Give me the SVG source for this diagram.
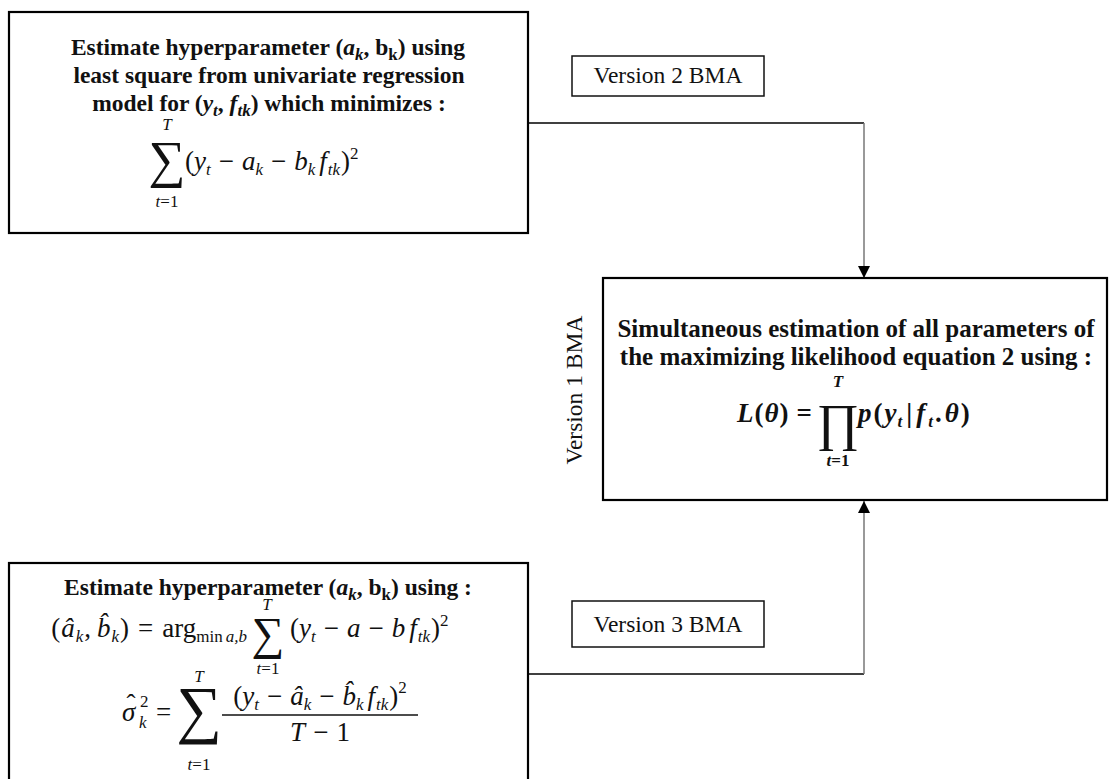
<svg xmlns="http://www.w3.org/2000/svg" width="1112" height="779" viewBox="0 0 1112 779">
<style>
.box{fill:#fff;stroke:#000;stroke-width:2.2}
.lbl{fill:#fff;stroke:#111;stroke-width:1.5}
.t{font-family:"Liberation Serif","Times New Roman",serif;font-size:23.5px;fill:#111}
.h2{font-size:25px}
.m{font-size:27px}
.b{font-weight:bold}
.i{font-style:italic}
.s{font-size:17px}
.big{font-size:52px}
.big2{font-size:46px}
.big3{font-size:64px}
.hl{stroke:#000;stroke-width:1.5;fill:none}
.vl{stroke:#777;stroke-width:1.5;fill:none}
</style>
<defs>
<marker id="arr" markerWidth="12" markerHeight="12" refX="12" refY="6" orient="auto" markerUnits="userSpaceOnUse">
<path d="M0,0 L12,6 L0,12 Z" fill="#000"/>
</marker>
</defs>
<rect width="1112" height="779" fill="#fff"/>

<g id="connectors">
<path class="hl" d="M528,123 H864"/>
<path class="vl" d="M864,123 V278" marker-end="url(#arr)"/>
<path class="hl" d="M528,674 H864"/>
<path class="vl" d="M864,674 V501" marker-end="url(#arr)"/>
</g>

<g id="box1">
<rect class="box" x="9" y="12" width="519" height="221"/>
<text class="t b" x="268" y="55" text-anchor="middle">Estimate hyperparameter (<tspan class="i">a</tspan><tspan class="s i" dy="5">k</tspan><tspan dy="-5">, b</tspan><tspan class="s" dy="5">k</tspan><tspan dy="-5">) using</tspan></text>
<text class="t b" x="269" y="83" text-anchor="middle">least square from univariate regression</text>
<text class="t b" x="269" y="111" text-anchor="middle">model for (<tspan class="i">y</tspan><tspan class="s i" dy="5">t</tspan><tspan dy="-5">, </tspan><tspan class="i">f</tspan><tspan class="s i" dy="5">tk</tspan><tspan dy="-5">) which minimizes :</tspan></text>
<text class="t s i" x="167" y="130" text-anchor="middle">T</text>
<text class="t big" x="167" y="177" text-anchor="middle">∑</text>
<text class="t m" x="185" y="170">(<tspan class="i">y</tspan><tspan class="s i" dy="5">t</tspan><tspan dy="-5" dx="8">−</tspan><tspan class="i" dx="8">a</tspan><tspan class="s i" dy="5">k</tspan><tspan dy="-5" dx="8">−</tspan><tspan class="i" dx="8">b</tspan><tspan class="s i" dy="5">k</tspan><tspan dx="4" dy="-5" class="i">f</tspan><tspan class="s i" dy="5" dx="1">tk</tspan><tspan dy="-5" dx="1">)</tspan><tspan class="s" dy="-11">2</tspan></text>
<text class="t s i" x="167" y="207" text-anchor="middle">t<tspan font-style="normal">=1</tspan></text>
</g>

<g id="label-v2">
<rect class="lbl" x="572" y="56" width="192" height="40"/>
<text class="t" x="668" y="83" text-anchor="middle">Version 2 BMA</text>
</g>

<g id="label-v1">
<text class="t" x="0" y="0" text-anchor="middle" transform="translate(582,390) rotate(-90)">Version 1 BMA</text>
</g>

<g id="box2">
<rect class="box" x="603" y="278" width="504" height="222"/>
<text class="t b h2" x="856" y="337" text-anchor="middle">Simultaneous estimation of all parameters of</text>
<text class="t b h2" x="856" y="365" text-anchor="middle">the maximizing likelihood equation 2 using :</text>
<text class="t s b i" x="838" y="387" text-anchor="middle">T</text>
<text class="t m b" x="812" y="422" text-anchor="end"><tspan class="i">L</tspan><tspan dx="1">(</tspan><tspan class="i" dx="1">θ</tspan><tspan dx="1">)</tspan><tspan dx="8">=</tspan></text>
<text class="t big" x="838" y="440" text-anchor="middle">∏</text>
<text class="t m b" x="858" y="422"><tspan class="i">p</tspan><tspan dx="2">(</tspan><tspan class="i" dx="2">y</tspan><tspan class="s i" dy="5" dx="1">t</tspan><tspan dy="-5" dx="4">|</tspan><tspan class="i" dx="4">f</tspan><tspan class="s i" dy="5" dx="3">t</tspan><tspan dy="-5" dx="2">.</tspan><tspan class="i" dx="3">θ</tspan><tspan dx="2">)</tspan></text>
<text class="t s b i" x="838" y="466" text-anchor="middle">t<tspan font-style="normal">=1</tspan></text>
</g>

<g id="label-v3">
<rect class="lbl" x="572" y="601" width="192" height="46"/>
<text class="t" x="668" y="632" text-anchor="middle">Version 3 BMA</text>
</g>

<g id="box3">
<rect class="box" x="9" y="563" width="519" height="230"/>
<text class="t b" x="268" y="595" text-anchor="middle">Estimate hyperparameter (<tspan class="i">a</tspan><tspan class="s i" dy="5">k</tspan><tspan dy="-5">, b</tspan><tspan class="s" dy="5">k</tspan><tspan dy="-5">) using :</tspan></text>
<text class="t s i" x="267" y="610" text-anchor="middle">T</text>
<text class="t m" x="247" y="637" text-anchor="end">(<tspan class="i" dx="1">â</tspan><tspan class="s i" dy="5" dx="1">k</tspan><tspan dy="-5" dx="1">,</tspan><tspan class="i" dx="6">b̂</tspan><tspan class="s i" dy="5" dx="1">k</tspan><tspan dy="-5" dx="1">)</tspan><tspan dx="9">=</tspan><tspan dx="9">arg</tspan><tspan class="s" dy="5">min</tspan><tspan class="s i" dx="3">a,b</tspan></text>
<text class="t big2" x="268" y="649" text-anchor="middle">∑</text>
<text class="t m" x="290" y="637">(<tspan class="i">y</tspan><tspan class="s i" dy="5">t</tspan><tspan dy="-5" dx="8">−</tspan><tspan class="i" dx="8">a</tspan><tspan dx="8">−</tspan><tspan class="i" dx="8">b</tspan><tspan class="i" dx="4">f</tspan><tspan class="s i" dy="5" dx="1">tk</tspan><tspan dy="-5" dx="1">)</tspan><tspan class="s" dy="-11">2</tspan></text>
<text class="t s i" x="268" y="674" text-anchor="middle">t<tspan font-style="normal">=1</tspan></text>
<text class="t m i" x="122" y="721">σ</text>
<text class="t m" x="131" y="713" text-anchor="middle">ˆ</text>
<text class="t s" x="140" y="707">2</text>
<text class="t s i" x="139" y="728">k</text>
<text class="t m" x="156" y="721">=</text>
<text class="t s i" x="199" y="682" text-anchor="middle">T</text>
<text class="t big3" x="199" y="731" text-anchor="middle">∑</text>
<text class="t s i" x="199" y="770" text-anchor="middle">t<tspan font-style="normal">=1</tspan></text>
<text class="t m" x="320" y="705" text-anchor="middle">(<tspan class="i">y</tspan><tspan class="s i" dy="5">t</tspan><tspan dy="-5" dx="8">−</tspan><tspan class="i" dx="8">â</tspan><tspan class="s i" dy="5">k</tspan><tspan dy="-5" dx="8">−</tspan><tspan class="i" dx="8">b̂</tspan><tspan class="s i" dy="5">k</tspan><tspan class="i" dx="4" dy="-5">f</tspan><tspan class="s i" dy="5" dx="1">tk</tspan><tspan dy="-5" dx="1">)</tspan><tspan class="s" dy="-12">2</tspan></text>
<line x1="222" y1="715" x2="418" y2="715" stroke="#111" stroke-width="1.3"/>
<text class="t m" x="320" y="741" text-anchor="middle"><tspan class="i">T</tspan><tspan dx="8">−</tspan><tspan dx="8">1</tspan></text>
</g>
</svg>
